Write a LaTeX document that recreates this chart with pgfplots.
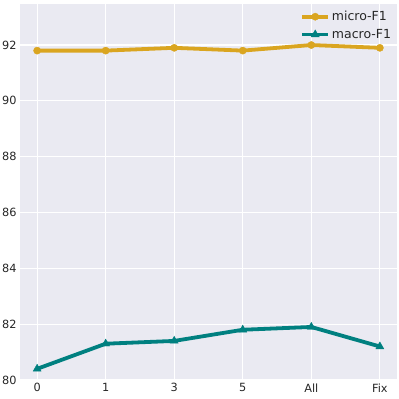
\documentclass[border=0pt]{standalone}
\usepackage{fontspec}
\setmainfont{DejaVu Sans}
\usepackage{pgfplots}
\pgfplotsset{compat=1.18}
\definecolor{bg}{HTML}{EAEAF2}
\definecolor{gold}{HTML}{DAA520}
\definecolor{tealc}{HTML}{008080}
\begin{document}
\begin{tikzpicture}
\begin{axis}[
  scale only axis,
  width=377pt, height=376pt,
  xmin=-0.25, xmax=5.25,
  ymin=80, ymax=93.47,
  xtick={0,1,2,3,4,5},
  xticklabels={0,1,3,5,All,Fix},
  ytick={80,82,84,86,88,90,92},
  axis background/.style={fill=bg},
  axis line style={draw=none},
  grid=major,
  major grid style={white, line width=1.1pt},
  tick style={draw=none},
  tick label style={font=\fontsize{11.3}{13}\selectfont, text=black!85},
  /pgf/number format/assume math mode=true,
  legend style={at={(0.998,0.992)}, anchor=north east, draw=none, fill=none, font=\fontsize{12.5}{14}\selectfont, row sep=3pt, text=black!85},
  legend cell align=left,
  legend image code/.code={\draw[mark repeat=2,mark phase=2,#1] plot coordinates {(0cm,0cm) (0.45cm,0cm) (0.9cm,0cm)};},
  every axis plot/.append style={line width=3.8pt},
]
\addplot[color=gold, mark=*, mark size=3.6pt, mark options={line width=0.4pt}] coordinates {(0,91.8) (1,91.8) (2,91.9) (3,91.8) (4,92.0) (5,91.9)};
\addlegendentry{micro-F1}
\addplot[color=tealc, mark=triangle*, mark size=4.6pt, mark options={line width=0.4pt}] coordinates {(0,80.4) (1,81.3) (2,81.4) (3,81.8) (4,81.9) (5,81.2)};
\addlegendentry{macro-F1}
\end{axis}
\pgfresetboundingbox
\path ([shift={(-20pt,-19pt)}]current axis.south west) rectangle ([shift={(2pt,4pt)}]current axis.north east);
\end{tikzpicture}
\end{document}
